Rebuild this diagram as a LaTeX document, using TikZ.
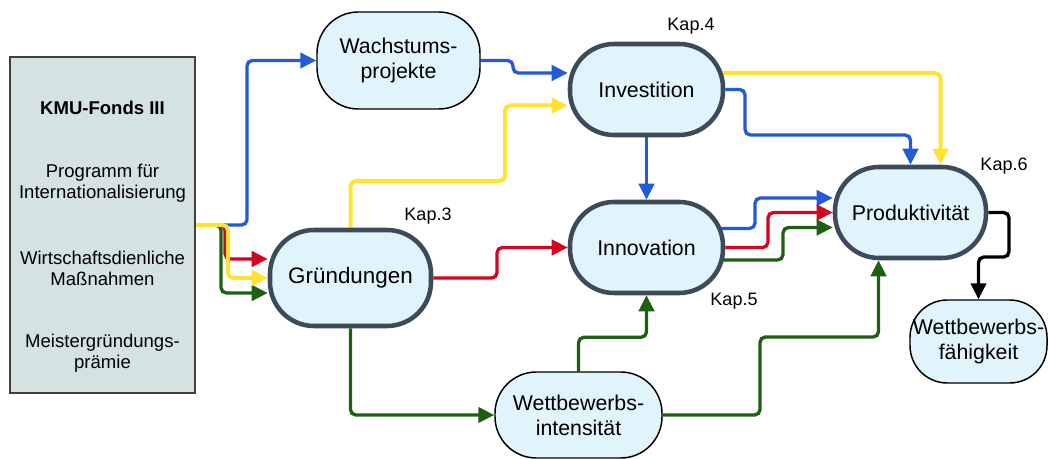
\documentclass[tikz,border=0pt]{standalone}
\usepackage{fontspec}
\setmainfont{Liberation Sans}
\usetikzlibrary{arrows.meta,calc,backgrounds}
\definecolor{cblue}{RGB}{33,92,214}
\definecolor{cyellow}{RGB}{255,226,50}
\definecolor{cred}{RGB}{210,5,35}
\definecolor{cgreen}{RGB}{30,95,20}
\definecolor{nfill}{RGB}{225,243,251}
\definecolor{bfill}{RGB}{212,226,226}
\definecolor{tdraw}{RGB}{60,74,90}
\begin{document}
\begin{tikzpicture}[x=0.75pt,y=-0.75pt,
  txt/.style={font=\fontsize{16}{18.75}\selectfont, align=center, inner sep=0pt},
  thinbox/.style={txt, draw=black, line width=1.1pt, fill=nfill, rounded corners=31pt},
  thickbox/.style={txt, draw=tdraw, line width=3.4pt, fill=nfill, rounded corners=33pt},
  kap/.style={font=\fontsize{13.5}{16}\selectfont, inner sep=0pt},
  lbt/.style={font=\fontsize{13.9}{15.75}\selectfont, align=center, inner sep=0pt},
  conn/.style={line width=2.5pt, rounded corners=4pt, -{Triangle[length=12pt,width=11.5pt]}},
  yconn/.style={conn, line width=3pt, cyellow},
]
\useasboundingbox (0,0) rectangle (1048,459);

% left box
\node[draw=black!75, line width=1.1pt, fill=bfill, minimum width=138.75pt, minimum height=252pt, inner sep=0pt] (lb) at (102.5,225) {};
\node[lbt, font=\fontsize{13.9}{15.75}\selectfont\bfseries] (lt1) at (102.5,108) {KMU-Fonds III};
\node[lbt] (lt2) at (102.5,183.5) {Programm für\\Internationalisierung};
\node[lbt] (lt3) at (102.5,268.5) {Wirtschaftsdienliche\\Maßnahmen};
\node[lbt] (lt4) at (102.5,353.5) {Meistergründungs-\\prämie};

% nodes
\node[thinbox, minimum width=122.25pt, minimum height=72.75pt] (wp) at (398.5,60.5) {Wachstums-\\projekte};
\node[thickbox, minimum width=114.75pt, minimum height=68.25pt] (inv) at (646.5,89.5) {Investition};
\node[thickbox, minimum width=114.75pt, minimum height=68.25pt] (inn) at (646.5,247.5) {Innovation};
\node[thickbox, minimum width=120.75pt, minimum height=72pt, font=\fontsize{16.8}{19}\selectfont] (gr) at (350.5,278) {Gründungen};
\node[thickbox, minimum width=113.25pt, minimum height=68.25pt] (pr) at (910.5,212.5) {Produktivität};
\node[thinbox, minimum width=125.25pt, minimum height=64.5pt] (wi) at (578.5,415) {Wettbewerbs-\\intensität};
\node[thinbox, rounded corners=28pt, minimum width=102.75pt, minimum height=62.25pt] (wf) at (978.5,341.5) {Wettbewerbs-\\fähigkeit};

% Kap labels
\node[kap] (k4) at (691,26) {Kap.4};
\node[kap] (k3) at (428,216) {Kap.3};
\node[kap] (k5) at (734,301) {Kap.5};
\node[kap] (k6) at (1004,166) {Kap.6};

\begin{scope}[on background layer]
% from left box
\draw[conn, cblue] (lb.east) -- (247,225) |- (wp.west);
\draw[conn, cgreen] (lb.east) -- (221,225) |- ($(gr.west)+(0,15)$);
\draw[conn, cred] (lb.east) -- (225,225) |- ($(gr.west)+(0,-19)$);
\draw[yconn] (lb.east) -- (228,225) |- (gr.west);
% to Investition
\draw[conn, cblue] (wp.east) -- (513,60.5) |- ($(inv.west)+(0,-16.5)$);
\draw[yconn] (gr.north) |- (505,181) |- ($(inv.west)+(0,16)$);
% Investition out
\draw[conn, cblue] (inv.south) -- (inn.north);
\draw[yconn] ($(inv.east)+(-6,-16.5)$) -| ($(pr.north)+(30,0)$);
\draw[conn, cblue] (inv.east) -| (745,135) -| (pr.north);
% Gruendungen out
\draw[conn, cred] (gr.east) -- (497,278) |- (inn.west);
\draw[conn, cgreen] (gr.south) |- (wi.west);
% Wettbewerbsintensitaet out
\draw[conn, cgreen] (wi.north) -- ++(0,-34) -| (inn.south);
\draw[conn, cgreen] (wi.east) -| (760,337) -| ($(pr.south)+(-32,0)$);
% Innovation to Produktivitaet
\draw[conn, cblue] ($(inn.east)+(-6,-19)$) -- (755,228.5) |- ($(pr.west)+(0,-14.5)$);
\draw[conn, cred] (inn.east) -- (768,247.5) |- (pr.west);
\draw[conn, cgreen] ($(inn.east)+(-4,12.5)$) -- (783,260) |- ($(pr.west)+(0,15)$);
% Produktivitaet to Wettbewerbsfaehigkeit
\draw[conn, black] (pr.east) -| (1009,257) -| (wf.north);
\end{scope}
\end{tikzpicture}
\end{document}
